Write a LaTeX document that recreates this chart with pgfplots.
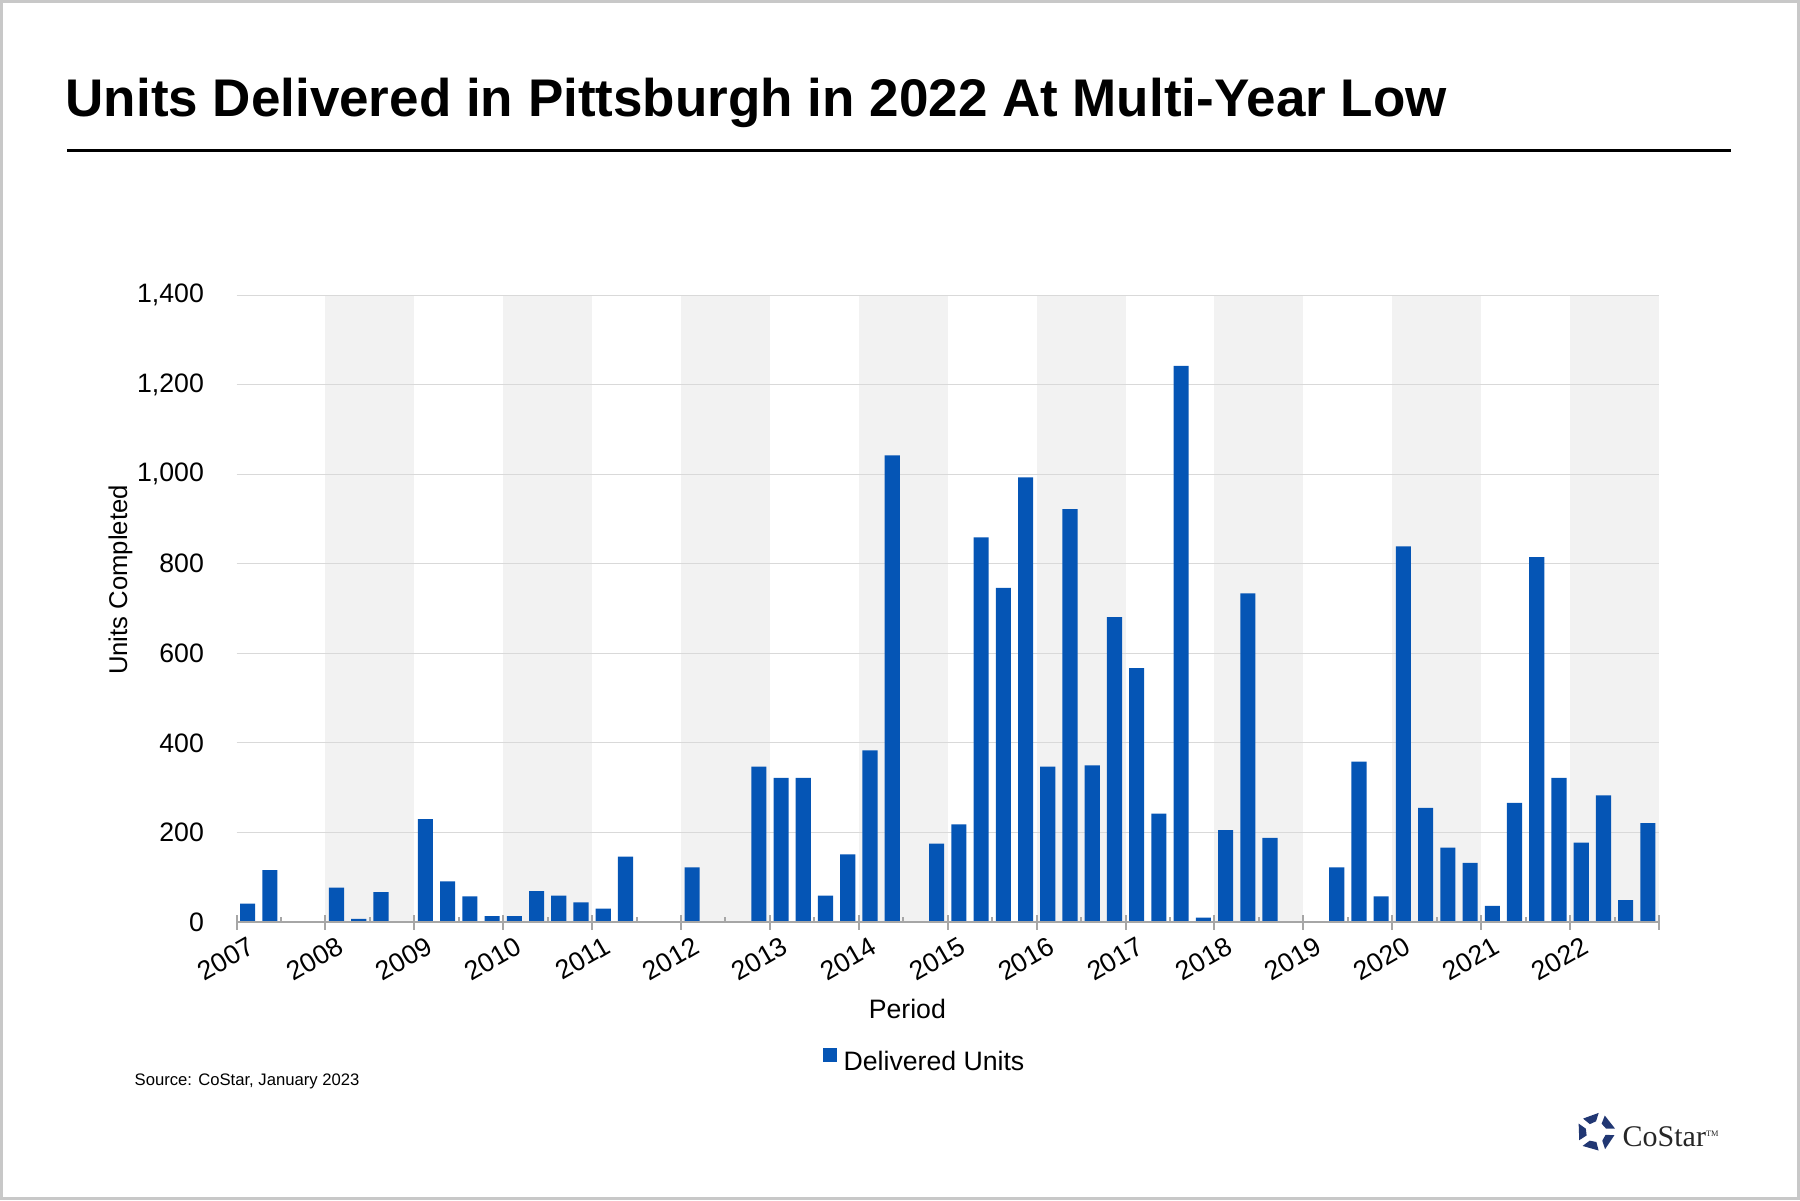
\documentclass[border=0pt]{standalone}
\usepackage{fontspec}
\setmainfont{Liberation Sans}
\newfontfamily\logofont{Liberation Serif}
\usepackage{pgfplots}
\pgfplotsset{compat=1.18}
\definecolor{barblue}{RGB}{5,85,181}
\definecolor{bandgray}{RGB}{242,242,242}
\definecolor{gridgray}{RGB}{217,217,217}
\definecolor{axisgray}{RGB}{166,166,166}
\definecolor{framegray}{RGB}{200,200,200}
\definecolor{logonavy}{RGB}{33,55,115}
\begin{document}
\begin{tikzpicture}
\path[use as bounding box] (0,0) rectangle (540pt,360pt);
\draw[framegray, line width=0.9pt] (0.45pt,0.45pt) rectangle (539.55pt,359.55pt);
\node[anchor=base west, inner sep=0pt, font=\fontsize{15.9}{19}\selectfont\bfseries] at (19.5pt,325.2pt) {Units Delivered in Pittsburgh in 2022 At Multi-Year Low};
\draw[black, line width=0.7pt] (20.1pt,314.9pt) -- (519.3pt,314.9pt);
\begin{axis}[
  at={(70.95pt,83.4pt)}, anchor=south west,
  scale only axis, width=426.75pt, height=188.1pt,
  xmin=0, xmax=64, ymin=0, ymax=1400,
  ybar, bar width=0.68,
  axis on top,
  axis x line*=bottom, axis y line*=left,
  y axis line style={draw=none},
  x axis line style={draw=axisgray, line width=0.6pt},
  ytick={0,200,...,1400},
  ytick style={draw=none},
  /pgf/number format/1000 sep={,},
  /pgf/number format/assume math mode=true,
  yticklabel style={font=\fontsize{8}{9.6}\selectfont, xshift=-4pt},
  xtick={0,4,...,64},
  xticklabels={2007,2008,2009,2010,2011,2012,2013,2014,2015,2016,2017,2018,2019,2020,2021,2022,{}},
  xtick style={draw=axisgray, line width=0.6pt},
  tick align=center, major tick length=4.5pt,
  xticklabel style={font=\fontsize{8}{9.6}\selectfont, rotate=30, anchor=north east, inner sep=0pt, xshift=2pt, yshift=-3pt},
  extra x ticks={2,6,...,62},
  extra x tick labels={},
  extra x tick style={tick align=inside, major tick length=1.5pt},
  legend style={draw=none, fill=none, at={(axis description cs:0.4854,-0.2249)}, anchor=center, font=\fontsize{8}{9.6}\selectfont, inner sep=0pt},
  legend image code/.code={\fill[barblue] (0pt,0.2pt) rectangle (4.2pt,4.4pt);},
]
\fill[bandgray] (axis cs:4,0) rectangle (axis cs:8,1400);
\fill[bandgray] (axis cs:12,0) rectangle (axis cs:16,1400);
\fill[bandgray] (axis cs:20,0) rectangle (axis cs:24,1400);
\fill[bandgray] (axis cs:28,0) rectangle (axis cs:32,1400);
\fill[bandgray] (axis cs:36,0) rectangle (axis cs:40,1400);
\fill[bandgray] (axis cs:44,0) rectangle (axis cs:48,1400);
\fill[bandgray] (axis cs:52,0) rectangle (axis cs:56,1400);
\fill[bandgray] (axis cs:60,0) rectangle (axis cs:64,1400);
\draw[gridgray, line width=0.3pt] (axis cs:0,200) -- (axis cs:64,200);
\draw[gridgray, line width=0.3pt] (axis cs:0,400) -- (axis cs:64,400);
\draw[gridgray, line width=0.3pt] (axis cs:0,600) -- (axis cs:64,600);
\draw[gridgray, line width=0.3pt] (axis cs:0,800) -- (axis cs:64,800);
\draw[gridgray, line width=0.3pt] (axis cs:0,1000) -- (axis cs:64,1000);
\draw[gridgray, line width=0.3pt] (axis cs:0,1200) -- (axis cs:64,1200);
\draw[gridgray, line width=0.3pt] (axis cs:0,1400) -- (axis cs:64,1400);
\addplot[fill=barblue, draw=none] coordinates {
(0.5,41) (1.5,116) (2.5,0) (3.5,0)
(4.5,77) (5.5,7) (6.5,67) (7.5,0)
(8.5,230) (9.5,91) (10.5,57) (11.5,13)
(12.5,13) (13.5,69) (14.5,59) (15.5,44)
(16.5,30) (17.5,146) (18.5,0) (19.5,0)
(20.5,122) (21.5,0) (22.5,0) (23.5,347)
(24.5,322) (25.5,322) (26.5,59) (27.5,151)
(28.5,383) (29.5,1042) (30.5,0) (31.5,175)
(32.5,218) (33.5,859) (34.5,746) (35.5,993)
(36.5,347) (37.5,922) (38.5,350) (39.5,681)
(40.5,567) (41.5,242) (42.5,1242) (43.5,10)
(44.5,205) (45.5,734) (46.5,188) (47.5,0)
(48.5,0) (49.5,122) (50.5,358) (51.5,57)
(52.5,839) (53.5,255) (54.5,166) (55.5,132)
(56.5,36) (57.5,266) (58.5,815) (59.5,322)
(60.5,177) (61.5,283) (62.5,49) (63.5,221)
};
\addlegendentry{Delivered Units}
\end{axis}
\node[rotate=90, font=\fontsize{7.7}{9}\selectfont, inner sep=0pt] at (36.15pt,186pt) {Units Completed};
\node[anchor=base, inner sep=0pt, font=\fontsize{8}{9.6}\selectfont] at (272.2pt,54.45pt) {Period};
\node[anchor=base west, inner sep=0pt, font=\fontsize{5}{6}\selectfont] at (40.2pt,34.5pt) {Source: CoStar, January 2023};
\begin{scope}[shift={(478.8pt,20.4pt)}]
\foreach \k in {0,...,4}{
  \fill[logonavy, rotate=72*\k+10] (0:5.8pt) -- (52:5.6pt) -- (46:3.0pt) -- (8:3.2pt) -- cycle;
}
\end{scope}
\node[anchor=base west, inner sep=0pt, font=\logofont\fontsize{9}{10}\selectfont, text=black!85] at (486.6pt,16.2pt) {CoStar\raisebox{3pt}{\fontsize{2.5}{3}\selectfont TM}};
\end{tikzpicture}
\end{document}
